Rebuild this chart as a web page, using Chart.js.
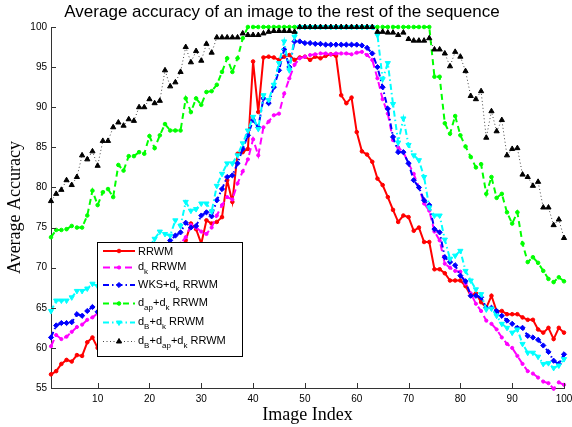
<!DOCTYPE html>
<html lang="en">
<head>
<meta charset="UTF-8">
<title>Average accuracy of an image to the rest of the sequence</title>
<script src="https://cdn.jsdelivr.net/npm/chart.js"></script>
<style>
  body { margin: 0; background: #fff; }
  #wrap { width: 572px; height: 427px; }
</style>
</head>
<body>
<div id="wrap"><canvas id="accChart" width="572" height="427"></canvas></div>
<script>
// x axis: image index 1..100
const imageIndex = Array.from({ length: 100 }, (_, i) => i + 1);
const xTicks = [10, 20, 30, 40, 50, 60, 70, 80, 90, 100];
const yTicks = [55, 60, 65, 70, 75, 80, 85, 90, 95, 100];

// RRWM
const rrwm = [
  56.7, 57.1, 58.0, 58.5, 58.3, 59.1, 59.0, 60.7, 61.3, 60.0,
  60.6, 61.5, 62.0, 62.8, 63.4, 64.0, 64.9, 65.3, 66.2, 67.0,
  67.4, 68.3, 69.0, 69.8, 70.6, 71.5, 73.4, 75.5, 74.8, 73.0,
  75.9, 75.5, 75.7, 76.3, 80.9, 78.2, 84.2, 84.4, 84.8, 95.7,
  89.4, 96.2, 96.3, 96.2, 95.9, 96.3, 96.5, 95.9, 96.2, 96.3,
  95.9, 96.3, 96.1, 96.4, 96.6, 96.4, 91.5, 90.5, 91.2, 86.9,
  84.5, 84.1, 83.2, 81.1, 80.3, 78.8, 77.2, 75.7, 76.5, 76.3,
  74.6, 75.0, 73.2, 73.2, 69.8, 69.8, 69.3, 68.4, 68.4, 68.4,
  67.7, 66.5, 66.8, 65.7, 65.0, 66.5, 64.6, 64.6, 64.2, 64.2,
  64.2, 63.8, 63.5, 63.5, 62.3, 61.9, 62.5, 61.1, 62.5, 61.9
];
// d_k RRWM
const dk = [
  60.2, 61.6, 61.1, 61.4, 62.0, 62.6, 62.9, 63.5, 63.8, 64.3,
  64.8, 65.3, 65.7, 66.2, 66.6, 67.3, 67.6, 68.2, 68.8, 69.3,
  69.9, 70.4, 71.0, 71.6, 72.3, 73.0, 73.8, 75.3, 75.0, 74.5,
  74.2, 75.0, 76.5, 77.8, 78.8, 78.5, 80.5, 82.0, 83.5, 86.0,
  84.0, 87.5, 88.2, 89.0, 89.2, 91.7, 93.6, 95.3, 96.1, 96.3,
  96.5, 96.6, 96.7, 96.7, 96.6, 96.7, 96.7, 96.7, 96.6, 96.8,
  96.9, 96.5, 95.9, 93.6, 91.0, 89.2, 85.9, 85.0, 84.4, 83.0,
  81.7, 80.0, 78.0, 77.1, 74.5, 73.4, 70.5, 70.0, 69.6, 69.5,
  68.0, 66.8, 65.5, 64.6, 63.4, 63.0, 62.3, 61.3, 60.5, 60.0,
  59.0, 58.0, 57.1, 56.8, 56.3, 55.8, 55.6, 54.9, 55.7, 55.4
];
// WKS+d_k RRWM
const wksDk = [
  61.3, 62.8, 63.1, 63.1, 63.2, 64.2, 64.0, 64.6, 65.1, 64.5,
  65.0, 65.6, 66.0, 66.8, 67.3, 68.0, 68.5, 69.2, 70.0, 70.5,
  71.0, 71.8, 72.5, 73.4, 74.0, 74.4, 75.6, 75.0, 75.2, 76.5,
  76.9, 76.4, 78.4, 79.8, 81.3, 81.5, 83.0, 84.8, 86.5, 88.4,
  87.5, 91.1, 90.5, 92.5, 94.6, 97.2, 95.0, 98.2, 98.2, 98.0,
  98.0, 97.9, 97.9, 97.8, 97.8, 97.8, 97.8, 97.8, 97.8, 97.8,
  97.7, 97.4, 96.7, 95.0, 92.5, 89.8, 86.3, 84.4, 84.4, 83.0,
  80.9, 80.0, 78.4, 77.8, 74.8, 74.4, 71.3, 70.7, 70.3, 69.0,
  68.3, 66.5, 66.5, 66.3, 65.0, 65.0, 64.6, 64.0, 63.4, 63.0,
  62.5, 62.5, 61.5, 61.3, 61.0, 60.3, 59.5, 58.4, 58.0, 59.2
];
// d_ap+d_k RRWM
const dapDk = [
  73.8, 74.7, 74.7, 74.8, 75.2, 75.0, 75.0, 76.5, 79.6, 77.8,
  79.4, 79.8, 78.8, 82.8, 82.1, 83.9, 83.9, 84.4, 84.2, 86.4,
  84.9, 86.5, 87.9, 87.1, 87.1, 87.1, 91.1, 89.4, 91.1, 90.3,
  91.9, 92.0, 92.8, 94.4, 96.1, 94.4, 96.1, 98.6, 100, 100,
  100, 100, 100, 100, 100, 100, 100, 100, 100, 100,
  100, 100, 100, 100, 100, 100, 100, 100, 100, 100,
  100, 100, 100, 100, 100, 100, 100, 100, 100, 100,
  100, 100, 100, 100, 93.8, 93.8, 88.0, 86.7, 88.9, 86.5,
  85.1, 83.8, 82.5, 82.9, 79.2, 81.3, 78.7, 79.2, 76.9, 75.5,
  76.9, 73.0, 70.7, 71.3, 70.6, 69.6, 68.6, 68.2, 68.8, 68.3
];
// d_B+d_k RRWM
const dBDk = [
  64.6, 65.9, 65.9, 65.9, 66.3, 67.1, 67.1, 67.4, 68.0, 67.7,
  68.2, 68.6, 69.0, 69.5, 70.0, 70.4, 71.0, 71.5, 72.0, 72.6,
  73.6, 74.5, 74.2, 74.0, 75.9, 75.2, 78.2, 77.1, 77.3, 78.0,
  78.0, 77.0, 80.2, 81.7, 83.0, 83.0, 84.0, 85.5, 87.1, 88.8,
  87.3, 91.5, 90.9, 92.8, 95.5, 98.2, 94.6, 98.8, 100, 100,
  100, 100, 100, 100, 100, 100, 100, 100, 100, 100,
  100, 100, 100, 99.0, 93.5, 95.5, 90.4, 85.6, 88.6, 85.3,
  84.0, 83.4, 81.3, 77.5, 76.5, 76.5, 73.5, 71.1, 71.5, 72.1,
  69.6, 68.4, 67.3, 66.7, 64.8, 64.9, 64.0, 63.0, 62.5, 61.9,
  62.3, 60.5, 59.4, 59.4, 58.9, 58.0, 58.1, 57.5, 57.8, 58.6
];
// d_B+d_ap+d_k RRWM
const dBDapDk = [
  78.3, 79.2, 79.7, 80.9, 80.3, 81.3, 84.0, 83.5, 84.5, 82.7,
  85.8, 85.8, 87.5, 88.1, 87.7, 88.5, 88.3, 90.0, 90.0, 91.0,
  90.5, 90.8, 94.6, 92.6, 93.1, 94.4, 97.5, 95.6, 97.0, 95.8,
  97.9, 96.8, 98.7, 98.7, 98.7, 98.7, 98.7, 99.2, 99.0, 99.0,
  99.0, 99.2, 99.4, 99.5, 99.5, 99.5, 99.5, 99.4, 100, 100,
  100, 100, 100, 100, 100, 100, 100, 100, 100, 100,
  100, 100, 100, 99.4, 99.4, 99.3, 99.3, 99.0, 99.3, 98.5,
  98.3, 98.3, 98.3, 98.6, 97.2, 97.2, 96.7, 95.1, 96.9, 96.3,
  94.5, 91.4, 91.0, 92.0, 86.2, 89.5, 87.0, 88.4, 84.0, 84.8,
  84.9, 81.6, 81.3, 80.2, 80.7, 77.5, 77.5, 75.3, 76.0, 73.7
];

// legend text pieces: [text, isSubscript]
const legendLabels = [
  [['RRWM', 0]],
  [['d', 0], ['k', 1], [' RRWM', 0]],
  [['WKS+d', 0], ['k', 1], [' RRWM', 0]],
  [['d', 0], ['ap', 1], ['+d', 0], ['k', 1], [' RRWM', 0]],
  [['d', 0], ['B', 1], ['+d', 0], ['k', 1], [' RRWM', 0]],
  [['d', 0], ['B', 1], ['+d', 0], ['ap', 1], ['+d', 0], ['k', 1], [' RRWM', 0]]
];

const toPts = arr => imageIndex.map((x, i) => ({ x: x, y: arr[i] }));

function series(values, color, lineColor, dash, width, style, radius, rot, order) {
  return {
    data: toPts(values),
    borderColor: lineColor,
    borderWidth: width,
    borderDash: dash,
    pointStyle: style,
    pointRadius: radius,
    pointRotation: rot,
    pointBackgroundColor: color,
    pointBorderColor: color,
    pointBorderWidth: 1,
    tension: 0,
    fill: false,
    clip: false,
    order: order
  };
}

// matlab style legend box drawn over the lines
const legendBox = {
  id: 'legendBox',
  afterDatasetsDraw(chart) {
    const ctx = chart.ctx;
    const x0 = 97, y0 = 242, w = 145, h = 114;
    const rows = [251, 267.5, 285, 303.5, 322.5, 341.5];
    ctx.save();
    ctx.fillStyle = '#fff';
    ctx.fillRect(x0, y0, w, h);
    ctx.strokeStyle = '#000';
    ctx.lineWidth = 1;
    ctx.strokeRect(x0 + 0.5, y0 + 0.5, w, h);
    chart.data.datasets.forEach((ds, i) => {
      const y = rows[i];
      ctx.setLineDash(ds.borderDash || []);
      ctx.strokeStyle = ds.borderColor;
      ctx.lineWidth = ds.borderWidth;
      ctx.beginPath();
      ctx.moveTo(103, y);
      ctx.lineTo(135, y);
      ctx.stroke();
      ctx.setLineDash([]);
      ctx.fillStyle = ds.pointBackgroundColor;
      ctx.strokeStyle = ds.pointBorderColor;
      ctx.lineWidth = 1;
      Chart.helpers.drawPoint(ctx, {
        pointStyle: ds.pointStyle, radius: ds.pointRadius,
        rotation: ds.pointRotation, borderWidth: 1
      }, 119, y);
      const hasSub = legendLabels[i].some(p => p[1]);
      let tx = 138;
      ctx.fillStyle = '#000';
      ctx.textBaseline = 'alphabetic';
      ctx.textAlign = 'left';
      legendLabels[i].forEach(([t, sub]) => {
        ctx.font = sub ? '8px "Liberation Sans"' : '11px "Liberation Sans"';
        const by = sub ? y + 6 : (hasSub ? y + 2.5 : y + 4);
        ctx.fillText(t, tx, by);
        tx += ctx.measureText(t).width;
      });
    });
    ctx.restore();
  }
};

// tick marks pointing into the axes
const innerTicks = {
  id: 'innerTicks',
  afterDraw(chart) {
    const { ctx, chartArea: a, scales: { x, y } } = chart;
    ctx.save();
    ctx.strokeStyle = '#333';
    ctx.lineWidth = 1;
    ctx.beginPath();
    xTicks.forEach(v => {
      const px = Math.round(x.getPixelForValue(v)) + 0.5;
      ctx.moveTo(px, a.bottom);
      ctx.lineTo(px, a.bottom - 5);
    });
    yTicks.forEach(v => {
      const py = Math.round(y.getPixelForValue(v)) + 0.5;
      ctx.moveTo(a.left, py);
      ctx.lineTo(a.left + 5, py);
    });
    ctx.stroke();
    ctx.restore();
  }
};

const tickFont = { family: 'Liberation Sans', size: 10 };

new Chart(document.getElementById('accChart'), {
  type: 'line',
  data: {
    datasets: [
      series(rrwm, '#ff0000', '#ff0000', [], 2, 'circle', 1.8, 0, 5),
      series(dk, '#ff00ff', '#ff00ff', [7, 4], 2, 'circle', 1.6, 0, 4),
      series(wksDk, '#0000ff', '#0000ff', [6, 3, 1.5, 3], 2, 'rectRot', 2.6, 0, 3),
      series(dapDk, '#00ff00', '#00ff00', [6, 4], 2, 'circle', 1.8, 0, 2),
      series(dBDk, '#00ffff', '#00ffff', [6, 3, 1.5, 3], 2, 'triangle', 3, 180, 1),
      series(dBDapDk, '#000000', '#444444', [1, 2.5], 1, 'triangle', 3, 0, 0)
    ]
  },
  options: {
    responsive: false,
    animation: false,
    layout: { padding: { left: 0, right: 8, top: 0, bottom: 0 } },
    plugins: {
      legend: { display: false },
      tooltip: { enabled: false },
      title: {
        display: true,
        text: 'Average accuracy of an image to the rest of the sequence',
        color: '#000',
        font: { family: 'Liberation Sans', size: 17, weight: 'normal' },
        padding: { top: 2, bottom: 4.6 }
      }
    },
    scales: {
      x: {
        type: 'linear',
        min: 1,
        max: 100,
        afterBuildTicks: s => { s.ticks = xTicks.map(v => ({ value: v })); },
        afterFit: s => { s.height = 39; s.paddingLeft = 0; s.paddingRight = 0; },
        grid: { display: false, drawTicks: false },
        border: { color: '#333', width: 1 },
        ticks: { color: '#000', font: tickFont, padding: 5, maxRotation: 0, autoSkip: false },
        title: {
          display: true, text: 'Image Index', color: '#000',
          font: { family: 'Liberation Serif', size: 18 },
          padding: { top: 0, bottom: 1 }
        }
      },
      y: {
        min: 55,
        max: 100,
        afterBuildTicks: s => { s.ticks = yTicks.map(v => ({ value: v })); },
        afterFit: s => { s.width = 51; },
        grid: { display: false, drawTicks: false },
        border: { color: '#333', width: 1 },
        ticks: { color: '#000', font: tickFont, padding: 4 },
        title: {
          display: true, text: 'Average Accuracy', color: '#000',
          font: { family: 'Liberation Serif', size: 18 },
          padding: { top: 4, bottom: 0 }
        }
      }
    }
  },
  plugins: [legendBox, innerTicks]
});
</script>
</body>
</html>
